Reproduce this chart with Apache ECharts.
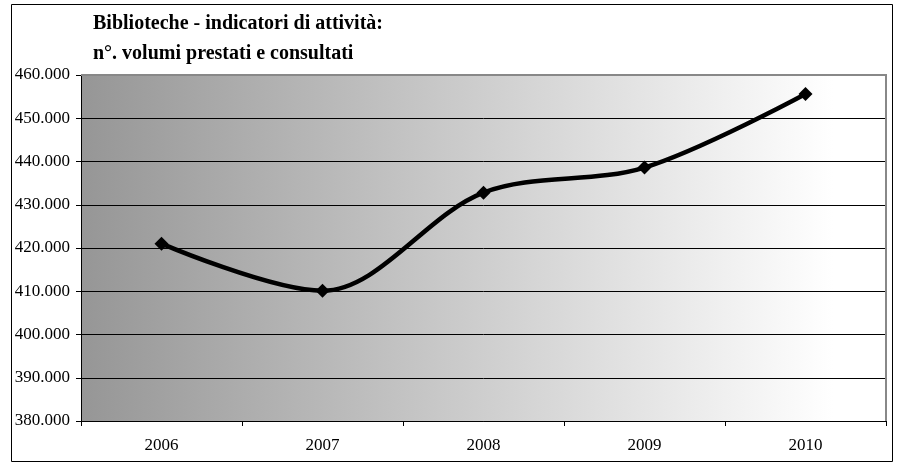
<!DOCTYPE html>
<html>
<head>
<meta charset="utf-8">
<script src="https://cdn.jsdelivr.net/npm/echarts@6/dist/echarts.min.js"></script>
<style>
html,body{margin:0;padding:0;background:#fff;}
#chart{width:897px;height:464px;}
</style>
</head>
<body>
<div id="chart"></div>
<script>
const titleLines = ['Biblioteche - indicatori di attività:', 'n°. volumi prestati e consultati'];
const categories = ['2006', '2007', '2008', '2009', '2010'];
const values = [421000, 410100, 432800, 438600, 455600];
const yMin = 380000, yMax = 460000, yStep = 10000;

const chart = echarts.init(document.getElementById('chart'), null, {renderer: 'canvas'});
const serif = '"Liberation Serif", "Times New Roman", serif';
chart.setOption({
  animation: false,
  backgroundColor: '#ffffff',
  title: {
    text: titleLines.join('\n'),
    left: 88, top: 4,
    textStyle: {fontFamily: serif, fontWeight: 'bold', fontSize: 20, color: '#000', lineHeight: 30}
  },
  graphic: [
    {type: 'rect', shape: {x: 11.5, y: 4.5, width: 881, height: 457}, style: {fill: 'none', stroke: '#000', lineWidth: 1}, z: 100},
    {type: 'polyline', shape: {points: [[81, 75], [886, 75], [886, 421]]}, style: {fill: 'none', stroke: '#888', lineWidth: 2}, z: 5}
  ],
  grid: {
    left: 81, right: 11, top: 75, bottom: 43,
    show: true, borderWidth: 0,
    backgroundColor: {
      type: 'linear', x: 0, y: 0, x2: 1, y2: 0,
      colorStops: [
        {offset: 0, color: '#969696'},
        {offset: 0.934, color: '#ffffff'},
        {offset: 1, color: '#ffffff'}
      ]
    }
  },
  xAxis: {
    type: 'category', data: categories, boundaryGap: true,
    axisLine: {lineStyle: {color: '#000', width: 1}},
    axisTick: {show: true, length: 5, lineStyle: {color: '#000'}},
    axisLabel: {fontFamily: serif, fontSize: 17, color: '#000', margin: 16}
  },
  yAxis: {
    type: 'value', min: yMin, max: yMax, interval: yStep,
    axisLine: {show: true, lineStyle: {color: '#000', width: 1}},
    axisTick: {show: true, length: 5, lineStyle: {color: '#000'}},
    splitLine: {show: true, lineStyle: {color: '#000', width: 1}},
    axisLabel: {
      fontFamily: serif, fontSize: 17, color: '#000', margin: 11,
      formatter: v => (v / 1000) + '.000'
    }
  },
  series: [{
    type: 'line', data: values, smooth: 0.33,
    lineStyle: {color: '#000', width: 4.5},
    symbol: 'diamond', symbolSize: 14,
    itemStyle: {color: '#000'},
    z: 10
  }]
});
</script>
</body>
</html>
